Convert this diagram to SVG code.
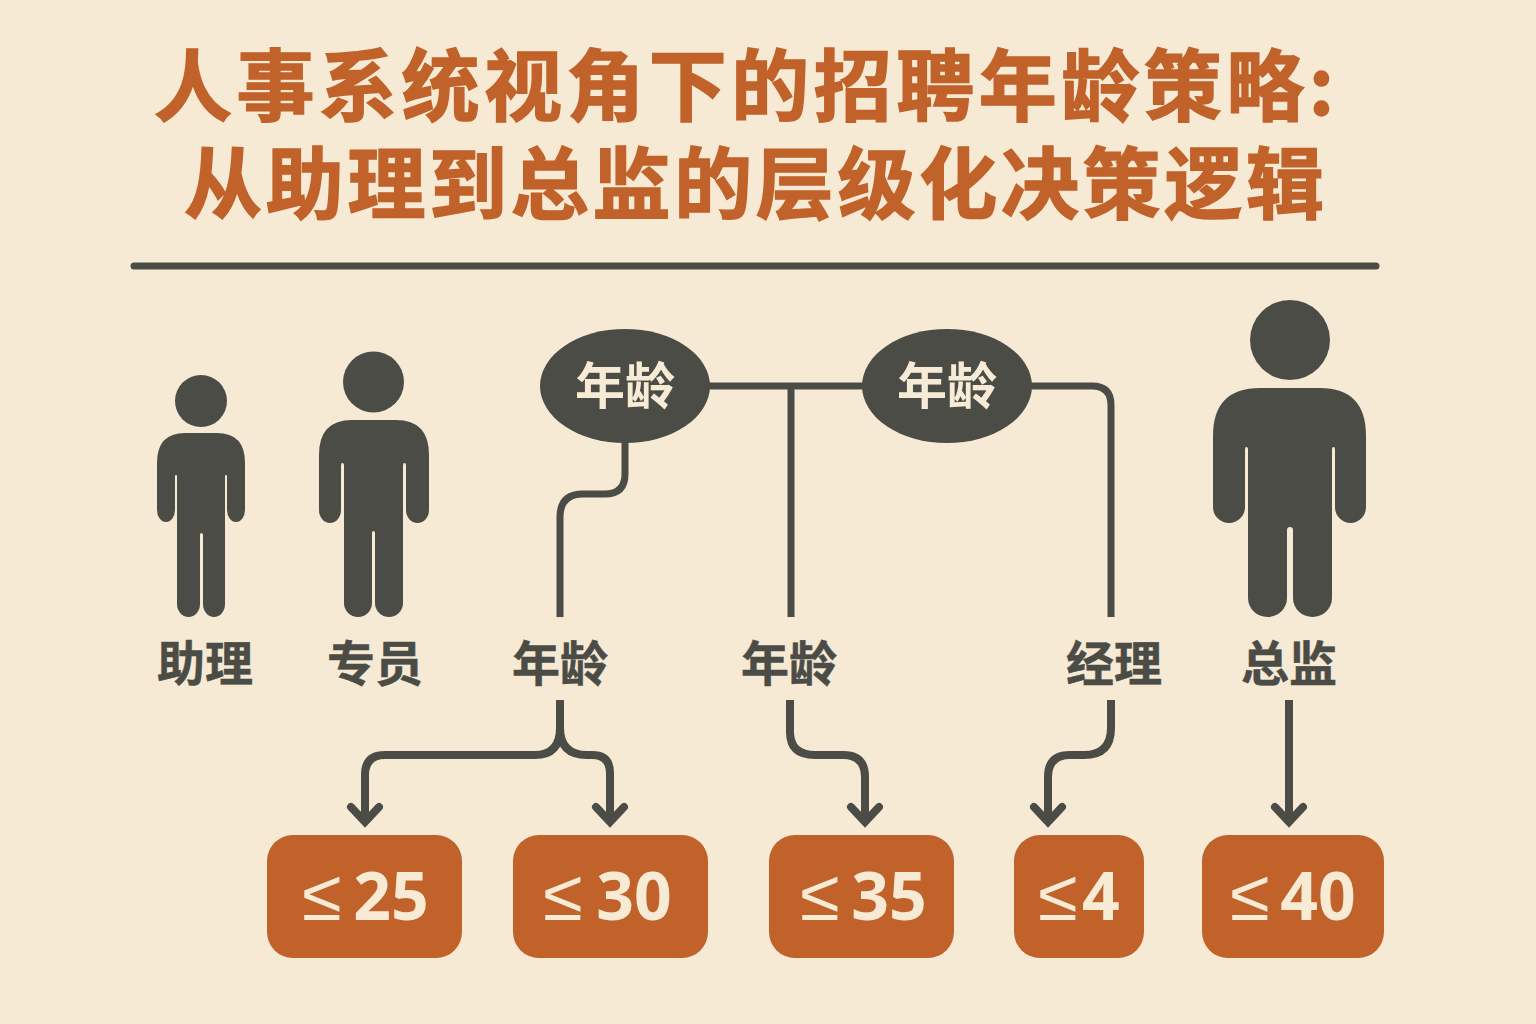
<svg xmlns="http://www.w3.org/2000/svg" width="1536" height="1024" viewBox="0 0 1536 1024">
<style>
.t{font-family:"Noto Sans CJK SC","Liberation Sans",sans-serif;font-weight:700;text-anchor:middle}
.title{font-size:78px;fill:#c1622a;stroke:#c1622a;stroke-width:1.500}
.lab{font-size:48px;fill:#4c4c47;stroke:#4c4c47;stroke-width:.5}
.bub{font-size:50px;fill:#f7ebd6}
.val{font-size:66px;fill:#f7ebd6;font-family:"Noto Sans","Liberation Sans",sans-serif;font-weight:700;text-anchor:middle}
.le{font-size:72px;font-weight:400}
.fig{fill:#4c4c47}
.box{fill:#c1622a}
.con{fill:none;stroke:#4c4c47;stroke-width:7;stroke-linejoin:round}
.low{stroke-width:8}
.arr{fill:none;stroke:#4c4c47;stroke-width:8;stroke-linecap:round;stroke-linejoin:miter}
</style>
<defs>
<marker id="ah" markerUnits="userSpaceOnUse" markerWidth="40" markerHeight="40" refX="0" refY="0" orient="auto" viewBox="-20 -20 40 40" overflow="visible">
<path d="M-15 -14 0 0 -15 14" class="arr"/>
</marker>
</defs>
<rect width="1536" height="1024" fill="#f6ead5"/>
<g id="title">
<text class="t title" x="744" y="115" textLength="1180" lengthAdjust="spacing">人事系统视角下的招聘年龄策略:</text>
<text class="t title" x="754" y="213" textLength="1140" lengthAdjust="spacing">从助理到总监的层级化决策逻辑</text>
</g>
<line id="divider" x1="134" y1="266" x2="1376" y2="266" stroke="#4c4c47" stroke-width="7" stroke-linecap="round"/>
<g id="connectors">
<path class="con" d="M708 386H864"/>
<path class="con" d="M791 386V617"/>
<path class="con" d="M1030 386H1092Q1111 386 1111 405V617"/>
<path class="con" d="M625 442V474Q625 494 605 494H583Q560 494 560 517V617"/>
<path class="con low" d="M560 700V728Q560 755 535 755H385Q365 755 365 775V822" marker-end="url(#ah)"/>
<path class="con low" d="M560 728Q560 755 587 755H592Q610 755 610 773V822" marker-end="url(#ah)"/>
<path class="con low" d="M790 700V732Q790 755 815 755H843Q865 755 865 777V822" marker-end="url(#ah)"/>
<path class="con low" d="M1111 700V728Q1111 755 1084 755H1070Q1048 755 1048 777V822" marker-end="url(#ah)"/>
<path class="con low" d="M1289 700V822" marker-end="url(#ah)"/>
</g>
<g id="node-assistant">
<circle class="fig" cx="201" cy="401" r="26"/>
<path class="fig" d="M185 433H217Q245 433 245 463V510A9 12 0 0 1 227 510V476A1 1 0 0 0 225 476V604A11 13 0 0 1 203 604V535A1.500 2 0 0 0 200 535V604A11.500 13 0 0 1 177 604V476A1 1 0 0 0 175 476V510A9 12 0 0 1 157 510V463Q157 433 185 433Z"/>
<text class="t lab" x="205" y="681">助理</text>
</g>
<g id="node-specialist">
<circle class="fig" cx="373.500" cy="382" r="30.500"/>
<path class="fig" d="M352 420H396Q429 420 429 455V510A11.500 13 0 0 1 406 510V465A1.500 2 0 0 0 403 465V603A14 14 0 0 1 375 603V533A1.500 2 0 0 0 372 533V603A14 14 0 0 1 344 603V465A1.500 2 0 0 0 341 465V510A11 13 0 0 1 319 510V455Q319 420 352 420Z"/>
<text class="t lab" x="375" y="681">专员</text>
</g>
<g id="node-age-bubble-1">
<ellipse class="fig" cx="625" cy="386" rx="85" ry="57"/>
<text class="t bub" x="625" y="404">年龄</text>
</g>
<g id="node-age-bubble-2">
<ellipse class="fig" cx="947" cy="386" rx="85" ry="57"/>
<text class="t bub" x="947" y="404">年龄</text>
</g>
<g id="node-director">
<circle class="fig" cx="1290" cy="340" r="40"/>
<path class="fig" d="M1260 388H1320Q1366 388 1366 436V507A15.500 16 0 0 1 1335 507V449A1.500 2 0 0 0 1332 449V598A19.500 19 0 0 1 1293 598V530A3 3 0 0 0 1287 530V598A19.500 19 0 0 1 1248 598V449A1.500 2 0 0 0 1245 449V507A16 16 0 0 1 1213 507V436Q1213 388 1260 388Z"/>
<text class="t lab" x="1289" y="681">总监</text>
</g>
<g id="node-label-age-1"><text class="t lab" x="560" y="681">年龄</text></g>
<g id="node-label-age-2"><text class="t lab" x="789" y="681">年龄</text></g>
<g id="node-label-manager"><text class="t lab" x="1114" y="681">经理</text></g>
<g id="node-25"><rect class="box" x="267" y="835" width="195" height="123" rx="26"/><text class="val" y="920"><tspan class="le" x="322">≤</tspan><tspan x="391">25</tspan></text></g>
<g id="node-30"><rect class="box" x="513" y="835" width="195" height="123" rx="26"/><text class="val" y="920"><tspan class="le" x="563">≤</tspan><tspan x="634">30</tspan></text></g>
<g id="node-35"><rect class="box" x="769" y="835" width="185" height="123" rx="26"/><text class="val" y="920"><tspan class="le" x="820">≤</tspan><tspan x="889">35</tspan></text></g>
<g id="node-4"><rect class="box" x="1014" y="835" width="130" height="123" rx="26"/><text class="val" y="920"><tspan class="le" x="1058">≤</tspan><tspan x="1101">4</tspan></text></g>
<g id="node-40"><rect class="box" x="1202" y="835" width="182" height="123" rx="26"/><text class="val" y="920"><tspan class="le" x="1250">≤</tspan><tspan x="1318">40</tspan></text></g>
</svg>
